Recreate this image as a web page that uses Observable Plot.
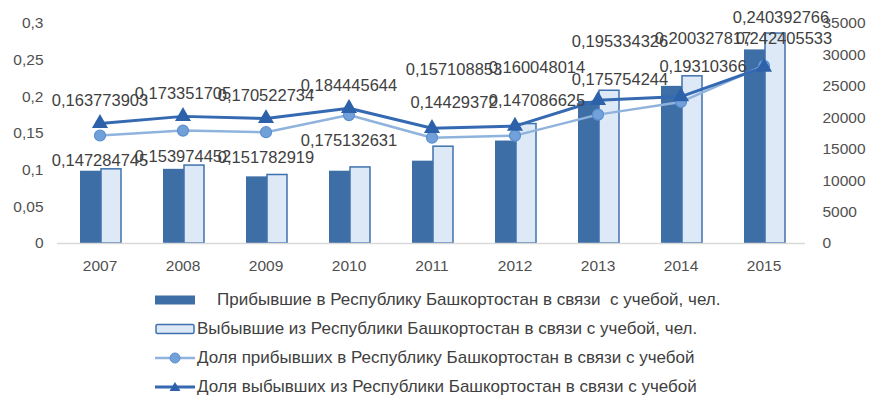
<!DOCTYPE html>
<html><head><meta charset="utf-8">
<script src="https://cdn.jsdelivr.net/npm/d3@7"></script>
<script src="https://cdn.jsdelivr.net/npm/@observablehq/plot@0.6"></script>
<style>
body{margin:0;background:#fff;font-family:"Liberation Sans",Arial,sans-serif;}
#legend{position:relative;height:120px;width:873px;}
.row{position:absolute;left:155px;height:20px;display:flex;align-items:center;font-size:17px;color:#404040;white-space:pre;}
.row svg{flex:none;}
.row span{display:inline-block;transform-origin:left center;}
</style></head><body><div id="chart"></div><div id="legend"></div>
<script>
const years = ["2007","2008","2009","2010","2011","2012","2013","2014","2015"];
const arrived = [11500, 11800, 10600, 11500, 13100, 16300, 22600, 25000, 30800];
const departed = [11800, 12400, 10900, 12100, 15400, 19000, 24300, 26600, 33400];
const shareArrived = [0.147284745, 0.153974452, 0.151782919, 0.175132631, 0.14429372, 0.147086625, 0.175754244, 0.19310366, 0.242405533];
const shareDeparted = [0.163773903, 0.173351705, 0.170522734, 0.184445644, 0.157108853, 0.160048014, 0.195334326, 0.200327817, 0.240392766];
const leftTicks = [0, 0.05, 0.1, 0.15, 0.2, 0.25, 0.3];
const rightTicks = [0, 5000, 10000, 15000, 20000, 25000, 30000, 35000];
const legendLabels = [
  "Прибывшие в Республику Башкортостан в связи  с учебой, чел.",
  "Выбывшие из Республики Башкортостан в связи с учебой, чел.",
  "Доля прибывших в Республику Башкортостан в связи с учебой",
  "Доля выбывших из Республики Башкортостан в связи с учебой"
];

const C = {dark:"#3e6ea6", lightFill:"#dde9f6", lightStroke:"#3f72ad", lineA:"#8fb3dc", dotA:"#72a1da", dotAStroke:"#5b8fd0", lineD:"#3569b2", triD:"#2d62aa", text:"#404040", axis:"#505050"};

const LMAX = leftTicks[leftTicks.length-1], RMAX = rightTicks[rightTicks.length-1];
const toLeft = v => v / RMAX * LMAX;
const fmt = v => String(v).replace(".", ",");
const rows = years.map((year, i) => ({year, i, arrived: toLeft(arrived[i]), departed: toLeft(departed[i]), sa: shareArrived[i], sd: shareDeparted[i]}));

function labels(key, groups) {
  return groups.map(g => Plot.text(rows.filter(d => g.f(d.i)), {
    x: "year", y: key, text: d => fmt(d[key]), dx: g.dx, dy: g.dy,
    lineAnchor: "bottom", textAnchor: "middle", fontSize: 16.5, fill: C.text
  }));
}

const chart = Plot.plot({
  width: 873, height: 280,
  marginLeft: 57, marginRight: 68, marginTop: 23, marginBottom: 37,
  style: {fontFamily: "'Liberation Sans', Arial, sans-serif", color: C.axis, background: "#fff"},
  x: {type: "band", domain: years, padding: 0},
  y: {domain: [0, LMAX]},
  marks: [
    Plot.barY(rows, {x: "year", y: "arrived", fill: C.dark, insetLeft: 22, insetRight: 40}),
    Plot.barY(rows, {x: "year", y: "departed", fill: C.lightFill, stroke: C.lightStroke, strokeWidth: 1.5, insetLeft: 43, insetRight: 20}),
    Plot.ruleY([0], {stroke: "#d9d9d9", strokeWidth: 1.5}),
    Plot.line(rows, {x: "year", y: "sa", stroke: C.lineA, strokeWidth: 2.5}),
    Plot.dot(rows, {x: "year", y: "sa", r: 5.5, fill: C.dotA, stroke: C.dotAStroke, strokeWidth: 1.2}),
    Plot.line(rows, {x: "year", y: "sd", stroke: C.lineD, strokeWidth: 3}),
    Plot.dot(rows, {x: "year", y: "sd", symbol: "triangle", r: 5, fill: C.triD, stroke: C.triD}),
    ...labels("sd", [{f: i => i < 4, dx: 0, dy: -17}, {f: i => i >= 4 && i < 8, dx: 22, dy: -53}, {f: i => i === 8, dx: 17, dy: -44}]),
    ...labels("sa", [{f: i => i < 4, dx: 0, dy: 31}, {f: i => i >= 4 && i < 8, dx: 22, dy: -30}, {f: i => i === 8, dx: 20, dy: -22}]),
    Plot.axisY(leftTicks, {anchor: "left", tickSize: 0, tickPadding: 14, tickFormat: fmt, fontSize: 15.5, label: null}),
    Plot.axisY(rightTicks.map(toLeft), {anchor: "right", tickSize: 0, tickPadding: 17, tickFormat: d => String(Math.round(d / LMAX * RMAX)), fontSize: 15.5, label: null}),
    Plot.axisX({tickSize: 0, tickPadding: 16, fontSize: 15.5, label: null})
  ]
});
document.getElementById("chart").appendChild(chart);

// legend
const sw = [
  `<rect x="0" y="5.5" width="40" height="9" fill="${C.dark}"/>`,
  `<rect x="1" y="5.5" width="38" height="9" rx="1.5" fill="${C.lightFill}" stroke="${C.lightStroke}" stroke-width="1.5"/>`,
  `<line x1="0" x2="40" y1="10" y2="10" stroke="${C.lineA}" stroke-width="2.5"/><circle cx="20" cy="10" r="5" fill="${C.dotA}" stroke="${C.dotAStroke}"/>`,
  `<line x1="0" x2="40" y1="10" y2="10" stroke="${C.lineD}" stroke-width="3"/><path d="M20,5 L25.5,14 L14.5,14 Z" fill="${C.triD}"/>`
];
const legend = document.getElementById("legend");
legendLabels.forEach((t, k) => {
  const row = document.createElement("div");
  row.className = "row";
  row.style.top = (10 + k * 29) + "px";
  row.innerHTML = `<svg width="40" height="20">${sw[k]}</svg><span style="margin-left:${k === 0 ? 22 : 2}px">${t}</span>`;
  legend.appendChild(row);
});
</script></body></html>
